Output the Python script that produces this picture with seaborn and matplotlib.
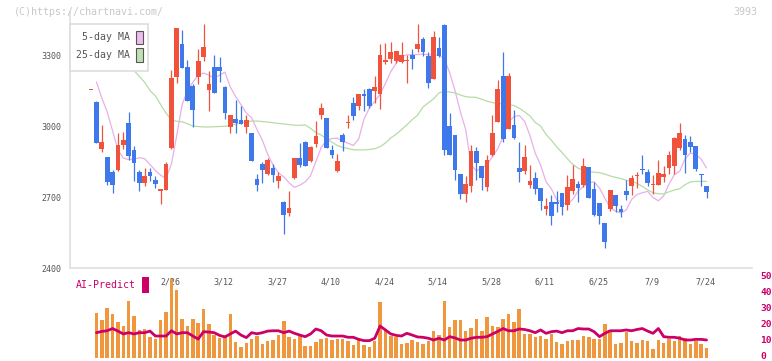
import numpy as np
import seaborn as sns
from matplotlib import pyplot as plt
from matplotlib import transforms
from matplotlib.patches import Rectangle

# candle data, index -1 is the lone dash on the far left
opens = [3152, 3101, 2903, 2869, 2806, 2815, 2918, 3013, 2898, 2806, 2760, 2806, 2772, 2727, 2731,
         2907, 3207, 3346, 3249, 3169, 3208, 3290, 3152, 3248, 3249, 3165, 2996, 3029, 3024, 2997,
         2970, 2776, 2841, 2797, 2822, 2769, 2679, 2634, 2780, 2865, 2932, 2851, 2925, 3048, 3034,
         2898, 2808, 2962, 3011, 3097, 3086, 3135, 3158, 3149, 3136, 3270, 3284, 3276, 3272, 3277,
         3300, 3326, 3367, 3295, 3200, 3329, 3426, 3000, 2962, 2797, 2714, 2748, 2894, 2831, 2744,
         2877, 3018, 3211, 2989, 3004, 2822, 2811, 2752, 2780, 2738, 2651, 2679, 2679, 2717, 2666,
         2727, 2755, 2752, 2827, 2734, 2675, 2590, 2649, 2708, 2649, 2725, 2746, 2787, 2818, 2806,
         2751, 2751, 2784, 2824, 2832, 2908, 2945, 2932, 2915, 2797, 2746]
highs = [3152, 3107, 3005, 2869, 2815, 2972, 2975, 3059, 2915, 2815, 2822, 2822, 2789, 2734, 2848,
         3238, 3414, 3405, 3279, 3179, 3325, 3431, 3231, 3301, 3291, 3169, 3045, 3111, 3083, 3048,
         2970, 2797, 2850, 2865, 2841, 2806, 2685, 2724, 2865, 2928, 2935, 2914, 3022, 3097, 3034,
         2921, 2882, 2970, 3048, 3122, 3135, 3158, 3160, 3211, 3346, 3350, 3355, 3318, 3355, 3300,
         3325, 3431, 3376, 3314, 3400, 3376, 3431, 3055, 2962, 2797, 2787, 2920, 2911, 2831, 2879,
         3046, 3194, 3314, 3224, 3067, 2932, 2920, 2835, 2806, 2738, 2696, 2708, 2725, 2717, 2793,
         2835, 2768, 2865, 2827, 2763, 2675, 2590, 2729, 2708, 2666, 2772, 2793, 2806, 2877, 2818,
         2793, 2856, 2831, 2894, 2953, 3012, 2962, 2958, 2915, 2797, 2746]
lows = [3152, 2928, 2890, 2749, 2717, 2812, 2903, 2858, 2766, 2727, 2746, 2769, 2738, 2672, 2731,
        2903, 3181, 3245, 3107, 2994, 3177, 3276, 3065, 3139, 3188, 3031, 2970, 2970, 3009, 2970,
        2853, 2727, 2759, 2794, 2763, 2738, 2544, 2620, 2775, 2825, 2829, 2848, 2913, 3031, 2907,
        2867, 2806, 2896, 2991, 3025, 3066, 3065, 3076, 3097, 3073, 3263, 3267, 3267, 3267, 3181,
        3242, 3315, 3297, 3162, 3200, 3293, 2879, 2876, 2773, 2691, 2680, 2722, 2773, 2729, 2727,
        2872, 3018, 2934, 2989, 2946, 2765, 2798, 2737, 2714, 2646, 2625, 2583, 2637, 2625, 2645,
        2714, 2680, 2742, 2696, 2620, 2586, 2485, 2642, 2637, 2615, 2687, 2708, 2738, 2797, 2746,
        2714, 2751, 2763, 2797, 2797, 2900, 2801, 2891, 2810, 2748, 2696]
closes = [3152, 2928, 2932, 2763, 2752, 2920, 2941, 2875, 2845, 2760, 2789, 2790, 2756, 2734, 2841,
          3203, 3414, 3245, 3107, 3069, 3276, 3334, 3177, 3139, 3234, 3055, 3045, 3012, 3010, 3025,
          2853, 2752, 2815, 2855, 2794, 2789, 2625, 2653, 2865, 2836, 2832, 2911, 2958, 3076, 2907,
          2879, 2851, 2932, 3011, 3042, 3135, 3127, 3086, 3165, 3301, 3279, 3314, 3318, 3300, 3277,
          3284, 3346, 3314, 3183, 3376, 3298, 2900, 2879, 2815, 2714, 2755, 2894, 2844, 2780, 2856,
          2970, 3158, 2946, 3211, 2951, 2807, 2869, 2768, 2735, 2684, 2662, 2621, 2672, 2659, 2742,
          2776, 2739, 2831, 2696, 2624, 2620, 2510, 2729, 2663, 2637, 2708, 2780, 2787, 2814, 2759,
          2756, 2801, 2797, 2877, 2949, 2970, 2879, 2913, 2818, 2795, 2722]

ma5 = [3186, 3118, 3060, 2980, 2900, 2865, 2858, 2860, 2866, 2862, 2837, 2812, 2792, 2778, 2840,
       2960, 3090, 3150, 3185, 3215, 3224, 3215, 3203, 3215, 3228, 3165, 3125, 3090, 3055, 3035,
       2985, 2940, 2880, 2835, 2802, 2785, 2760, 2741, 2750, 2764, 2790, 2850, 2910, 2940, 2947,
       2949, 2935, 2928, 2918, 2945, 3030, 3076, 3104, 3135, 3180, 3230, 3265, 3294, 3301, 3301,
       3302, 3304, 3301, 3301, 3300, 3285, 3225, 3150, 3060, 2985, 2835, 2811, 2823, 2837, 2870,
       2905, 2955, 3015, 3040, 3045, 3020, 2960, 2885, 2835, 2765, 2735, 2689, 2677, 2668, 2690,
       2725, 2745, 2760, 2764, 2738, 2695, 2655, 2640, 2633, 2645, 2690, 2710, 2718, 2724, 2698,
       2684, 2705, 2755, 2795, 2809, 2862, 2886, 2880, 2860, 2823]
ma25_start = 5
ma25 = [3287, 3260, 3235, 3210, 3185, 3150, 3128, 3090, 3055, 3025, 3020, 3018, 3010, 3000, 2998,
        2996, 2996, 2997, 2998, 2999, 3003, 3008, 3014, 3018, 3021, 3021, 3019, 3017, 3014, 3011,
        3009, 3006, 3004, 3003, 3005, 2990, 2972, 2962, 2945, 2932, 2918, 2910, 2905, 2900, 2899,
        2899, 2901, 2904, 2913, 2928, 2950, 2965, 2985, 3005, 3027, 3046, 3080, 3098, 3115, 3140,
        3146, 3144, 3140, 3131, 3124, 3122, 3121, 3113, 3105, 3099, 3096, 3093, 3090, 3087, 3075,
        3060, 3043, 3015, 3000, 2965, 2940, 2912, 2888, 2862, 2838, 2822, 2813, 2808, 2805, 2803,
        2797, 2789, 2783, 2778, 2771, 2767, 2758, 2745, 2730, 2718, 2714, 2713, 2722, 2730, 2735,
        2752, 2764, 2766, 2766, 2766]

volume = [28.2, 23.7, 31.2, 27.4, 22.6, 19.9, 35.8, 26.2, 17.4, 18.0, 13.0, 11.7, 23.7, 28.7, 49.4,
          42.5, 24.3, 19.9, 24.3, 21.6, 30.6, 21.1, 14.2, 12.4, 14.2, 27.4, 10.0, 6.7, 9.2, 11.7,
          13.8, 8.6, 10.7, 11.1, 14.2, 23.0, 13.0, 11.7, 13.6, 7.3, 7.3, 9.8, 11.7, 12.4, 11.1,
          11.7, 11.7, 10.5, 8.0, 11.1, 8.0, 6.7, 10.7, 35.0, 18.0, 13.6, 13.0, 8.6, 9.2, 11.1,
          9.8, 8.6, 10.5, 16.9, 14.2, 35.8, 19.3, 23.7, 23.7, 16.7, 18.6, 24.3, 16.7, 25.5, 19.9,
          19.3, 24.3, 27.4, 22.4, 30.6, 14.9, 14.9, 13.2, 13.6, 11.7, 14.9, 9.8, 8.6, 10.7, 11.1,
          11.1, 13.6, 13.0, 11.7, 11.7, 21.1, 17.4, 8.6, 9.2, 16.1, 10.5, 9.2, 11.1, 10.7, 5.5,
          11.1, 9.2, 11.7, 10.5, 13.6, 12.4, 8.6, 10.5, 8.6, 6.1]
ai_predict = [15.7, 16.5, 16.9, 18.3, 16.7, 14.9, 15.7, 14.9, 15.7, 15.7, 16.7, 13.6, 13.6, 13.6, 16.9,
              14.9, 15.7, 15.7, 13.6, 11.7, 16.3, 16.1, 15.7, 14.0, 13.0, 14.9, 16.7, 14.2, 12.6, 15.7,
              15.0, 15.7, 16.7, 16.9, 16.9, 15.7, 16.7, 15.3, 14.2, 13.2, 14.9, 18.0, 16.9, 14.2, 13.6,
              13.6, 13.6, 12.8, 12.8, 11.5, 10.7, 10.7, 12.2, 19.9, 17.4, 14.9, 14.0, 13.6, 15.3, 14.2,
              13.0, 12.8, 12.2, 11.1, 12.2, 11.1, 13.2, 12.4, 11.1, 11.1, 12.2, 12.8, 12.8, 13.2, 14.9,
              16.5, 18.3, 16.9, 16.9, 18.0, 17.7, 16.9, 15.7, 17.4, 15.3, 16.3, 16.7, 15.7, 16.9, 16.9,
              18.3, 18.0, 18.0, 16.3, 13.2, 15.3, 16.9, 16.9, 16.9, 17.4, 16.9, 17.7, 18.3, 16.7, 15.3,
              18.3, 13.2, 12.8, 12.8, 12.2, 11.1, 11.1, 11.5, 11.5, 11.1]
ai_ticks = [0, 10, 20, 30, 40, 50]

date_pos = [14, 24, 34, 44, 54, 64, 74, 84, 94, 104, 114]
date_labels = ["2/26", "3/12", "3/27", "4/10", "4/24", "5/14", "5/28", "6/11", "6/25", "7/9", "7/24"]

W, H = 772, 361
RED, BLUE = "#f0523c", "#3f78ea"
MAGENTA = "#cc0066"


def fx(x):
    return x / W


def fy(y):
    return 1 - y / H


def main():
    sns.set_theme(style="white")
    plt.rcParams['font.family'] = ['DejaVu Sans Mono']

    fig = plt.figure(figsize=(W / 100, H / 100), dpi=100)
    ax = fig.add_axes([fx(70), fy(268), fx(752) - fx(70), fy(12) - fy(268)])
    axv = fig.add_axes([fx(70), fy(357.7), fx(752) - fx(70), fy(278) - fy(357.7)])
    axv.set_facecolor("none")

    xmin, xmax = -4.95, 122.5

    # candles
    idx = np.arange(-1, len(opens) - 1)
    o, h, l, c = map(np.array, (opens, highs, lows, closes))
    cols = [RED if cc >= oo else BLUE for oo, cc in zip(o, c)]
    ax.vlines(idx, l, h, colors=cols, lw=0.9, zorder=3)
    body = np.maximum(np.abs(c - o), 4)
    ax.bar(idx, body, bottom=np.minimum(o, c), width=0.88, color=cols, linewidth=0, zorder=3)

    # moving averages
    sns.lineplot(x=np.arange(len(ma5)), y=ma5, ax=ax, color="#e8b0e8", lw=0.9, zorder=2)
    sns.lineplot(x=np.arange(ma25_start, ma25_start + len(ma25)), y=ma25, ax=ax,
                 color="#b6dca6", lw=0.9, zorder=2)

    ax.set_xlim(xmin, xmax)
    ax.set_ylim(2400, 3482)
    ax.set_yticks([2400, 2700, 3000, 3300])
    ax.set_xticks(np.linspace(xmin, xmax, 12))
    ax.set_xticklabels([])
    ax.tick_params(axis="y", direction="inout", length=6.5, width=1, color="#dddddd",
                   labelsize=6, labelcolor="#555555", pad=3)
    ax.tick_params(axis="x", direction="inout", length=4.5, width=1, color="#dddddd")
    for side in ("top", "right"):
        ax.spines[side].set_visible(False)
    for side in ("left", "bottom"):
        ax.spines[side].set_color("#e2e2e2")
        ax.spines[side].set_linewidth(1.3)

    trans = transforms.blended_transform_factory(ax.transData, ax.transAxes)
    for p, lab in zip(date_pos, date_labels):
        ax.text(p - 0.2, -0.055, lab, transform=trans, ha="center", va="center",
                fontsize=6, color="#555555")

    # volume + AI-Predict
    vidx = np.arange(len(volume))
    axv.bar(vidx, volume, width=0.65, color="#f0963c", linewidth=0, zorder=1)
    sns.lineplot(x=vidx, y=ai_predict, ax=axv, color=MAGENTA, lw=2, zorder=2)
    axv.set_xlim(xmin, xmax)
    axv.set_ylim(0, 50)
    axv.set_xticks([])
    axv.set_yticks([])
    for s in axv.spines.values():
        s.set_visible(False)
    rtrans = transforms.blended_transform_factory(axv.transAxes, axv.transData)
    for v in ai_ticks:
        axv.text(1.012, v + 0.9, str(v), transform=rtrans, ha="left", va="center",
                 fontsize=6.8, color=MAGENTA, fontweight="bold")

    # header texts
    fig.text(fx(14), fy(12), "(C)https://chartnavi.com/", ha="left", va="center",
             fontsize=7.2, color="#c8c8c8")
    fig.text(fx(757), fy(12), "3993", ha="right", va="center", fontsize=7.2, color="#c8c8c8")

    # legend box
    fig.add_artist(Rectangle((fx(70), fy(71)), fx(148) - fx(70), fy(24) - fy(71),
                             transform=fig.transFigure, facecolor="white",
                             edgecolor="#dddddd", lw=1.2, zorder=5))
    fig.text(fx(130), fy(37.5), "5-day MA", ha="right", va="center", fontsize=7.1,
             color="#555555", zorder=6)
    fig.text(fx(130), fy(55), "25-day MA", ha="right", va="center", fontsize=7.1,
             color="#555555", zorder=6)
    fig.add_artist(Rectangle((fx(136), fy(44)), fx(143) - fx(136), fy(31) - fy(44),
                             transform=fig.transFigure, facecolor="#eebcee",
                             edgecolor="#555555", lw=0.8, zorder=6))
    fig.add_artist(Rectangle((fx(136), fy(62)), fx(143) - fx(136), fy(48) - fy(62),
                             transform=fig.transFigure, facecolor="#bfe0b0",
                             edgecolor="#555555", lw=0.8, zorder=6))

    # AI-Predict label
    fig.text(fx(76), fy(285), "AI-Predict", ha="left", va="center", fontsize=7.1, color=MAGENTA)
    fig.add_artist(Rectangle((fx(142.3), fy(292.7)), fx(148.7) - fx(142.3), fy(276.7) - fy(292.7),
                             transform=fig.transFigure, facecolor=MAGENTA, lw=0))

    fig.savefig("out.png", dpi=100)
    return 0


if __name__ == '__main__':
    raise SystemExit(main())
